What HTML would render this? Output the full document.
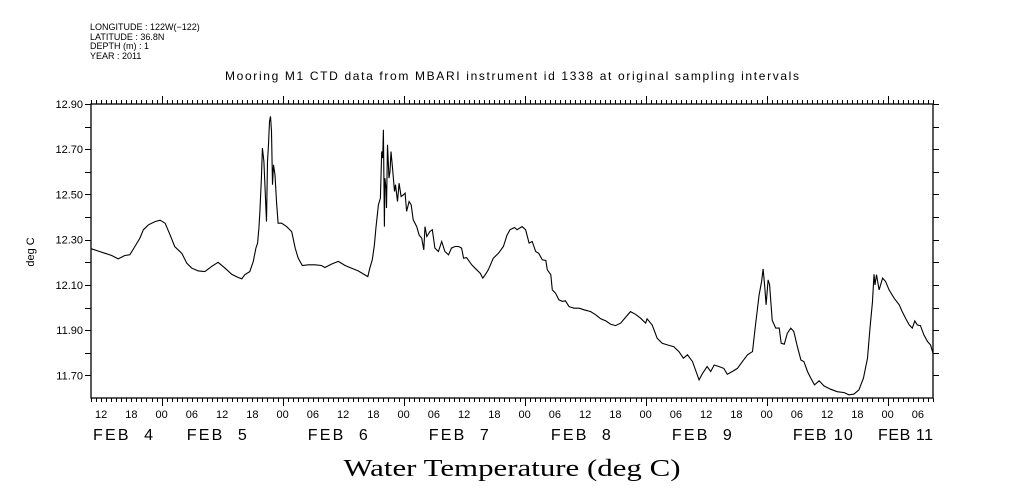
<!DOCTYPE html>
<html><head><meta charset="utf-8"><style>
html,body{margin:0;padding:0;background:#fff;}
svg{display:block;}
text{font-family:"Liberation Sans",sans-serif;fill:#000;}
</style></head><body>
<svg id="chart" width="1009" height="504" viewBox="0 0 1009 504" xmlns="http://www.w3.org/2000/svg">
<g font-size="9">
<text x="90" y="30">LONGITUDE : 122W(−122)</text>
<text x="90" y="40">LATITUDE : 36.8N</text>
<text x="90" y="49">DEPTH (m) : 1</text>
<text x="90" y="59">YEAR : 2011</text>
</g>
<text x="512" y="80" text-anchor="middle" font-size="12" textLength="574">Mooring M1 CTD data from MBARI instrument id 1338 at original sampling intervals</text>
<text transform="translate(34,252) rotate(-90)" text-anchor="middle" font-size="11">deg C</text>
<text x="512" y="476" text-anchor="middle" font-size="24" textLength="337" lengthAdjust="spacingAndGlyphs" style="font-family:'Liberation Serif',serif">Water Temperature (deg C)</text>
<g id="axes"></g>
<g id="series"></g>
</svg>
<script>
const times = [10.0,11.4,12.8,14.1,15.4,16.7,17.7,18.7,19.7,20.4,21.4,22.7,23.7,24.7,25.7,26.6,28.0,29.0,30.0,31.3,32.6,33.9,35.2,36.6,37.9,39.2,39.9,40.5,41.5,42.2,42.7,43.05,43.3,43.5,43.8,44.0,44.3,44.5,44.8,45.0,45.2,45.4,45.6,45.8,46.0,46.2,46.5,46.8,47.1,47.8,48.8,49.8,50.5,51.1,51.9,53.1,54.4,55.7,56.4,57.7,59.05,60.4,61.7,63.0,64.9,65.3,65.8,66.2,66.5,67.0,67.4,67.65,67.85,68.0,68.2,68.3,68.5,68.6,68.8,69.1,69.3,69.5,69.8,70.2,70.4,70.8,71.1,71.5,72.0,72.3,72.6,73.1,73.5,73.9,74.6,75.1,75.6,76.0,76.25,76.6,77.2,77.7,78.2,78.9,79.55,80.2,80.9,81.5,82.2,82.9,83.5,83.9,84.5,85.5,86.5,87.2,87.7,88.2,88.8,89.8,90.8,91.8,92.5,93.1,94.0,94.5,95.5,96.2,96.9,97.5,98.2,98.8,99.5,100.2,100.5,101.2,101.5,102.15,102.8,103.5,104.1,104.8,105.8,106.8,107.8,109.1,110.1,111.1,112.1,113.1,114.05,115.05,116.0,117.0,118.0,119.0,120.0,120.3,121.3,122.3,123.3,124.3,125.6,126.6,127.5,128.3,129.3,129.9,130.6,131.3,132.2,132.9,133.6,134.6,135.5,136.2,137.2,138.2,139.2,140.2,141.2,141.8,142.5,143.0,143.3,143.6,143.9,144.3,144.6,145.1,145.8,146.5,146.9,147.5,148.1,148.8,149.4,150.1,150.8,151.4,152.1,152.7,153.5,154.4,155.4,156.7,158.0,159.4,160.3,161.3,162.3,163.2,164.0,164.5,165.0,165.3,165.5,165.8,166.3,167.0,167.6,168.3,169.3,170.3,170.9,171.6,172.3,172.9,173.4,173.9,174.5,175.2,175.9,176.5,177.0];
const temps = [12.26,12.25,12.24,12.23,12.215,12.23,12.233,12.27,12.307,12.344,12.366,12.38,12.386,12.373,12.32,12.27,12.24,12.196,12.174,12.162,12.159,12.181,12.20,12.174,12.147,12.133,12.127,12.145,12.159,12.204,12.263,12.285,12.351,12.425,12.572,12.705,12.646,12.543,12.38,12.646,12.72,12.823,12.845,12.779,12.543,12.631,12.587,12.469,12.373,12.373,12.358,12.336,12.263,12.218,12.186,12.189,12.189,12.186,12.177,12.192,12.204,12.186,12.174,12.162,12.137,12.174,12.211,12.277,12.351,12.454,12.484,12.69,12.661,12.786,12.358,12.572,12.528,12.44,12.72,12.572,12.602,12.69,12.617,12.513,12.543,12.469,12.55,12.491,12.499,12.506,12.425,12.469,12.454,12.388,12.358,12.32,12.307,12.255,12.358,12.314,12.336,12.344,12.263,12.248,12.292,12.248,12.233,12.263,12.27,12.27,12.263,12.218,12.221,12.189,12.167,12.152,12.13,12.145,12.167,12.218,12.24,12.27,12.32,12.344,12.354,12.344,12.358,12.344,12.285,12.292,12.248,12.24,12.211,12.208,12.167,12.145,12.078,12.063,12.034,12.027,12.03,12.004,11.997,11.997,11.99,11.982,11.968,11.95,11.941,11.926,11.92,11.931,11.956,11.982,11.97,11.953,11.931,11.95,11.923,11.864,11.842,11.835,11.827,11.805,11.776,11.791,11.761,11.724,11.68,11.709,11.739,11.717,11.746,11.739,11.731,11.705,11.717,11.731,11.761,11.791,11.805,11.923,12.056,12.115,12.171,12.10,12.012,12.122,12.10,11.944,11.909,11.909,11.842,11.838,11.886,11.909,11.894,11.827,11.768,11.761,11.717,11.69,11.658,11.676,11.653,11.639,11.628,11.624,11.614,11.617,11.636,11.687,11.776,11.909,12.027,12.147,12.10,12.145,12.078,12.13,12.115,12.078,12.041,12.012,11.982,11.95,11.923,11.909,11.941,11.923,11.92,11.879,11.85,11.835,11.798];
const yTickValues = [12.90,12.80,12.70,12.60,12.50,12.40,12.30,12.20,12.10,12.00,11.90,11.80,11.70];
const yTickLabels = ["12.90","","12.70","","12.50","","12.30","","12.10","","11.90","","11.70"];
const hourLabels = ["12","18","00","06","12","18","00","06","12","18","00","06","12","18","00","06","12","18","00","06","12","18","00","06","12","18","00","06"];
const hourLabelTimes = [12,18,24,30,36,42,48,54,60,66,72,78,84,90,96,102,108,114,120,126,132,138,144,150,156,162,168,174];
const dateLabels = ["FEB  4","FEB  5","FEB  6","FEB  7","FEB  8","FEB  9","FEB 10","FEB 11"];
const dateLabelTimes = [10.4,29.0,53.0,77.0,101.2,125.2,149.2,166.1];

const L=91,R=933,T=104,B=398,tMin=10,tMax=177,vMin=11.60,vMax=12.90;
const xs=t=>L+(t-tMin)/(tMax-tMin)*(R-L);
const ys=v=>B-(v-vMin)/(vMax-vMin)*(B-T);
const NS="http://www.w3.org/2000/svg";
const axes=document.getElementById('axes'), series=document.getElementById('series');
function mk(tag,attrs,parent){const e=document.createElementNS(NS,tag);for(const k in attrs)e.setAttribute(k,attrs[k]);parent.appendChild(e);return e;}

const frame=mk('rect',{x:L,y:T,width:R-L,height:B-T,fill:'none',stroke:'#000','stroke-width':1.3},axes);



let tk='';
for(let h=tMin;h<=tMax;h++){
  const x=Math.round(xs(h))+0.5;const len=(h%24===0)?8:4;
  tk+=`M${x} ${T}V${T-len}M${x} ${B}V${B+len}`;
}
yTickValues.forEach(v=>{const y=Math.round(ys(v))+0.5;tk+=`M${L} ${y}H${L-6}M${R} ${y}H${R+6}`;});
const ticks=mk('path',{d:tk,stroke:'#000','stroke-width':1,fill:'none'},axes);



yTickValues.forEach((v,i)=>{
  if(!yTickLabels[i])return;
  const t=mk('text',{x:L-8,y:ys(v)+4,'text-anchor':'end','font-size':11},axes);
  t.textContent=yTickLabels[i];
  
  
});
hourLabels.forEach((s,i)=>{
  const t=mk('text',{x:xs(hourLabelTimes[i]),y:418,'text-anchor':'middle','font-size':11},axes);
  t.textContent=s;
  
  
});
dateLabels.forEach((s,i)=>{
  const w = (i===dateLabels.length-1)?55:60;
  const t=mk('text',{x:xs(dateLabelTimes[i]),y:440,'font-size':16,textLength:w,lengthAdjust:'spacing',style:'white-space:pre'},axes);
  t.textContent=s;
  
  
});

const pts=times.map((t,i)=>xs(t).toFixed(1)+','+ys(temps[i]).toFixed(1)).join(' ');
const line=mk('polyline',{points:pts,fill:'none',stroke:'#000','stroke-width':1.1},series);


</script>
</body></html>
